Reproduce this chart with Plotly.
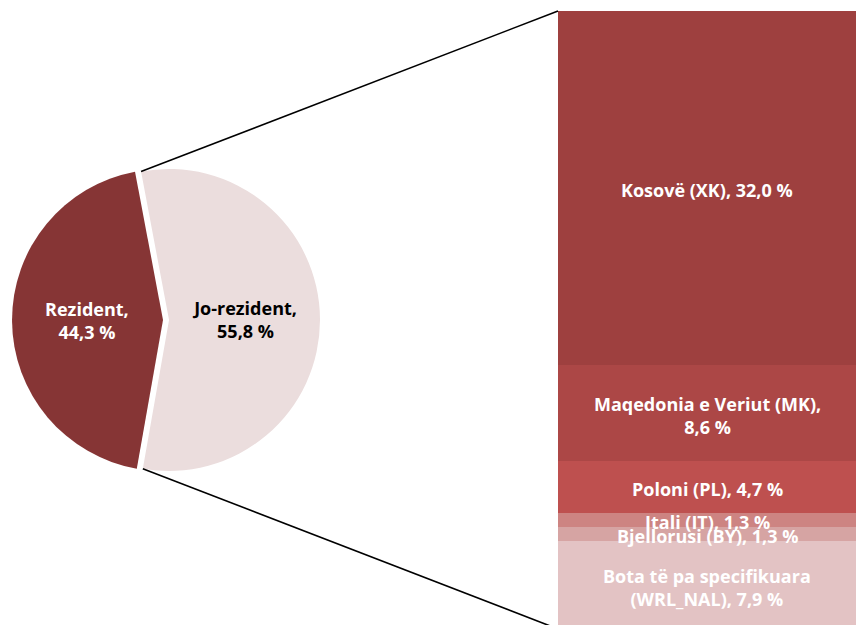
import math
import textwrap
import plotly.graph_objects as go

# ---- data ----
pie_labels = ["Rezident", "Jo-rezident"]
pie_values = [44.3, 55.8]
pie_colors = ["#863535", "#EBDDDD"]
pie_text_colors = ["white", "black"]

bar_labels = ["Kosovë (XK)", "Maqedonia e Veriut (MK)", "Poloni (PL)",
              "Itali (IT)", "Bjellorusi (BY)", "Bota të pa specifikuara (WRL_NAL)"]
bar_values = [32.0, 8.6, 4.7, 1.3, 1.3, 7.9]
bar_colors = ["#9E403F", "#AC4746", "#BE504F", "#CD8482", "#D6A4A3", "#E3C3C4"]

W, H = 856, 625
FONT = "Open Sans"
FSIZE = 18


def fmt(v):
    return f"{v:.1f}".replace(".", ",") + " %"


# ---- layout geometry (paper fractions) ----
pie_dom_x = [6 / W, 320 / W]
pie_dom_y = [1 - 477 / H, 1 - 163 / H]
pull = 0.04
rotation = 190

bar_dom_x = [558 / W, 1.0]
bar_dom_y = [0.0, 1 - 11 / H]
total_bar = sum(bar_values)
bar_range = [0.36, total_bar]

fig = go.Figure()

fig.add_trace(go.Pie(
    labels=pie_labels, values=pie_values, sort=False, direction="clockwise",
    rotation=rotation, pull=[0, pull],
    marker=dict(colors=pie_colors, line=dict(width=0)),
    text=[f"{l},<br>{fmt(v)}" for l, v in zip(pie_labels, pie_values)],
    texttemplate="<b>%{text}</b>", textposition="inside",
    insidetextorientation="horizontal",
    textfont=dict(family=FONT, size=FSIZE, color=pie_text_colors),
    domain=dict(x=pie_dom_x, y=pie_dom_y), showlegend=False, hoverinfo="label+value",
))

# stacked bar: bottom first
base = 0.0
order = list(range(len(bar_values)))[::-1]
for i in order:
    fig.add_trace(go.Bar(
        x=[0], y=[bar_values[i]], base=[base], width=1,
        marker=dict(color=bar_colors[i], line=dict(width=0)),
        xaxis="x", yaxis="y", showlegend=False, name=bar_labels[i],
    ))
    label = textwrap.fill(f"{bar_labels[i]}, {fmt(bar_values[i])}", width=26).replace("\n", "<br>")
    fig.add_annotation(
        x=0, y=base + bar_values[i] / 2, xref="x", yref="y",
        text=f"<b>{label}</b>", showarrow=False, yshift=-2,
        font=dict(family=FONT, size=FSIZE, color="white"),
    )
    base += bar_values[i]

# ---- connector lines computed from pie geometry ----
aw = W * (pie_dom_x[1] - pie_dom_x[0])
ah = H * (pie_dom_y[1] - pie_dom_y[0])
r = min(aw, ah) / (2 + 2 * pull)
cx = W * (pie_dom_x[0] + pie_dom_x[1]) / 2
cy = H * (1 - (pie_dom_y[0] + pie_dom_y[1]) / 2)
tot = sum(pie_values)
a0 = math.radians(rotation + 360 * pie_values[0] / tot)
a1 = math.radians(rotation + 360)
bis = (a0 + a1) / 2
ox, oy = pull * r * math.sin(bis), -pull * r * math.cos(bis)
pts = []
for a in (a0, a1):
    px = cx + ox + r * math.sin(a)
    py = cy + oy - r * math.cos(a)
    pts.append((px / W, 1 - py / H))

bar_left = bar_dom_x[0]
yscale = (bar_dom_y[1] - bar_dom_y[0]) / (bar_range[1] - bar_range[0])
top_y = bar_dom_y[0] + (total_bar - bar_range[0]) * yscale
bot_y = bar_dom_y[0] + (0 - bar_range[0]) * yscale

for (px, py), ty in zip(pts, (top_y, bot_y)):
    fig.add_shape(type="line", xref="paper", yref="paper",
                  x0=px, y0=py, x1=bar_left, y1=ty,
                  line=dict(color="black", width=1.6))

fig.update_layout(
    width=W, height=H, margin=dict(l=0, r=0, t=0, b=0),
    paper_bgcolor="white", plot_bgcolor="white",
    barmode="stack", bargap=0,
    xaxis=dict(domain=bar_dom_x, range=[-0.5, 0.5], visible=False, fixedrange=True),
    yaxis=dict(domain=bar_dom_y, range=bar_range, visible=False, fixedrange=True),
    font=dict(family=FONT),
)

fig.write_html("out.html", config={"displayModeBar": False},
               post_script="document.body.style.margin='0';document.body.style.overflow='hidden';")
